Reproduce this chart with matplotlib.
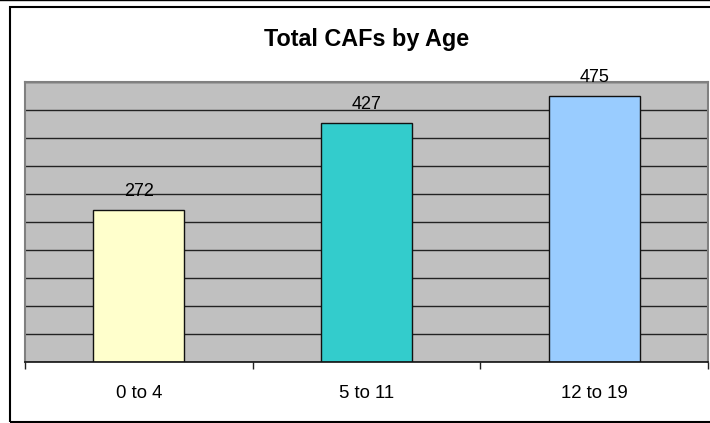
import numpy as np
import matplotlib.pyplot as plt
from matplotlib.patches import Rectangle
from matplotlib.lines import Line2D

plt.rcParams['font.family'] = ['Liberation Sans', 'DejaVu Sans']

# data
age_groups = ['0 to 4', '5 to 11', '12 to 19']
caf_totals = [272, 427, 475]
bar_colours = ['#FFFFCC', '#33CCCC', '#99CCFF']

fig = plt.figure(figsize=(7.1, 4.23), dpi=100)
ax = fig.add_axes([25 / 710, 1 - 362 / 423, 683 / 710, 280 / 423])

# outer chart border (right edge runs off the image) and thin line at the very top
fig.patches.append(Rectangle((10 / 710, 1 - 421.5 / 423), 1.0, (421.5 - 7.5) / 423,
                             transform=fig.transFigure, fill=False, edgecolor='black',
                             linewidth=1.5, clip_on=False))
fig.lines.append(Line2D([0, 1], [1 - 0.5 / 423] * 2, transform=fig.transFigure,
                        color='black', linewidth=1))

ax.set_facecolor('#C0C0C0')
x = np.arange(len(age_groups))
bars = ax.bar(x, caf_totals, width=0.4, color=bar_colours, edgecolor='#111111',
              linewidth=1, zorder=3)

ax.set_xlim(-0.5, len(age_groups) - 0.5)
ax.set_ylim(0, 500)
ax.set_yticks(np.arange(0, 501, 50))
ax.yaxis.grid(True, color='#222222', linewidth=1.0, zorder=1)
ax.tick_params(axis='y', length=0, labelleft=False)

# ticks between categories, labels centred under bars
ax.set_xticks(np.arange(-0.5, len(age_groups)), labels=[])
ax.set_xticks(x, labels=age_groups, minor=True)
ax.tick_params(axis='x', which='major', direction='out', length=5, width=1, color='#222222')
ax.tick_params(axis='x', which='minor', length=0, pad=16.5, labelsize=13.4)

for side in ['top', 'left', 'right']:
    ax.spines[side].set_color('#808080')
    ax.spines[side].set_linewidth(1.5)
ax.spines['bottom'].set_color('#111111')
ax.spines['bottom'].set_linewidth(1.2)
ax.spines['bottom'].set_zorder(4)

for b, v in zip(bars, caf_totals):
    ax.annotate(str(v), (b.get_x() + b.get_width() / 2, v), xytext=(0, 10),
                textcoords='offset points', ha='center', va='baseline', fontsize=13)

fig.text(366.5 / 710, 1 - 46 / 423, 'Total CAFs by Age', ha='center', va='baseline',
         fontsize=16.8, fontweight='bold')

fig.savefig('out.png', dpi=100)
